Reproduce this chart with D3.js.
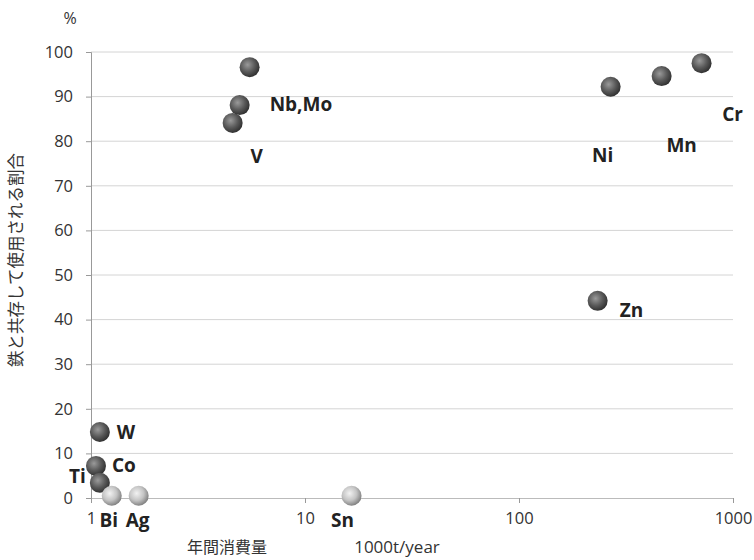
<!DOCTYPE html>
<html lang="ja">
<head>
<meta charset="UTF-8">
<title>鉄と共存して使用される割合</title>
<script src="https://d3js.org/d3.v7.min.js"></script>
<style>
  body { margin: 0; background: #fff; }
  text { font-family: "Open Sans", "Liberation Sans", sans-serif; }
  .jp { font-family: "Noto Sans CJK JP", sans-serif; }
</style>
</head>
<body>
<div id="chart"></div>
<script>
// データ: 元素名, 年間消費量 (1000t/year), 鉄と共存して使用される割合 (%)
const names  = ["W", "Co", "Ti", "Bi", "Ag", "Sn", "V", "Nb", "Mo", "Ni", "Mn", "Cr", "Zn"];
const usage  = [1.10, 1.055, 1.10, 1.25, 1.67, 16.5, 4.59, 4.95, 5.51, 268, 464, 713, 233];
const share  = [14.8, 7.2, 3.4, 0.5, 0.5, 0.5, 84.1, 88.1, 96.6, 92.2, 94.6, 97.5, 44.2];
const light  = ["Bi", "Ag", "Sn"];
const yTicks = [0, 10, 20, 30, 40, 50, 60, 70, 80, 90, 100];
const xTicks = [1, 10, 100, 1000];

// ラベル (テキスト, 基準点, オフセット)
const labels = [
  { text: "W",     at: "W",  dx: 17,  dy: 7,  anchor: "start" },
  { text: "Co",    at: "Co", dx: 16,  dy: 6,  anchor: "start" },
  { text: "Ti",    at: "Ti", dx: -14, dy: 0,  anchor: "end" },
  { text: "Bi",    at: "Bi", dx: -3,  dy: 31, anchor: "middle" },
  { text: "Ag",    at: "Ag", dx: -1,  dy: 31, anchor: "middle" },
  { text: "Sn",    at: "Sn", dx: -9,  dy: 31, anchor: "middle" },
  { text: "V",     at: "V",  dx: 24,  dy: 40, anchor: "middle" },
  { text: "Nb,Mo", at: "Nb", dx: 30,  dy: 6,  anchor: "start" },
  { text: "Ni",    at: "Ni", dx: -8,  dy: 75, anchor: "middle" },
  { text: "Mn",    at: "Mn", dx: 20,  dy: 76, anchor: "middle" },
  { text: "Cr",    at: "Cr", dx: 31,  dy: 58, anchor: "middle" },
  { text: "Zn",    at: "Zn", dx: 34,  dy: 16, anchor: "middle" }
];

const width = 754, height = 560;
const margin = { left: 91, right: 21, top: 52, bottom: 62 };

const svg = d3.select("#chart").append("svg")
  .attr("width", width)
  .attr("height", height);

const x = d3.scaleLog().domain([1, 1000]).range([margin.left, width - margin.right]);
const y = d3.scaleLinear().domain([0, 100]).range([height - margin.bottom, margin.top]);

// グラデーション (球体風)
const defs = svg.append("defs");
function sphere(id, c0, c1, c2) {
  const g = defs.append("radialGradient").attr("id", id)
    .attr("cx", "40%").attr("cy", "38%").attr("r", "65%");
  g.append("stop").attr("offset", "0%").attr("stop-color", c0);
  g.append("stop").attr("offset", "55%").attr("stop-color", c1);
  g.append("stop").attr("offset", "100%").attr("stop-color", c2);
}
sphere("dark", "#9a9a9a", "#5a5a5a", "#2e2e2e");
sphere("light", "#f2f2f2", "#c4c4c4", "#7c7c7c");

// 目盛線
svg.append("g").selectAll("line")
  .data(yTicks.filter(d => d > 0))
  .join("line")
  .attr("x1", margin.left).attr("x2", width - margin.right)
  .attr("y1", d => y(d)).attr("y2", d => y(d))
  .attr("stroke", "#d4d4d4").attr("stroke-width", 1);

// Y軸
const yAxis = svg.append("g")
  .attr("transform", `translate(${margin.left},0)`)
  .call(d3.axisLeft(y).tickValues(yTicks).tickSize(5).tickPadding(13));
yAxis.select(".domain").attr("stroke", "#999");
yAxis.selectAll(".tick line").attr("stroke", "#999");
yAxis.selectAll("text").attr("font-size", 16.5).attr("fill", "#333");

// X軸
const xAxis = svg.append("g")
  .attr("transform", `translate(0,${y(0)})`)
  .call(d3.axisBottom(x).tickValues(xTicks).tickFormat(d3.format("d")).tickSize(5).tickPadding(9));
xAxis.select(".domain").attr("stroke", "#bbb");
xAxis.selectAll(".tick line").attr("stroke", "#999");
xAxis.selectAll("text").attr("font-size", 16.5).attr("fill", "#333");

// 点
const points = names.map((n, i) => ({ name: n, u: usage[i], s: share[i] }));
const byName = Object.fromEntries(points.map(p => [p.name, p]));

svg.append("g").selectAll("circle")
  .data(points)
  .join("circle")
  .attr("cx", d => x(d.u))
  .attr("cy", d => y(d.s))
  .attr("r", 10)
  .attr("fill", d => light.includes(d.name) ? "url(#light)" : "url(#dark)");

// ラベル
svg.append("g").selectAll("text")
  .data(labels)
  .join("text")
  .attr("x", d => x(byName[d.at].u) + d.dx)
  .attr("y", d => y(byName[d.at].s) + d.dy)
  .attr("text-anchor", d => d.anchor)
  .attr("font-size", 19)
  .attr("font-weight", "bold")
  .attr("fill", "#222")
  .text(d => d.text);

// 軸タイトル
svg.append("text").attr("x", 70).attr("y", 24)
  .attr("text-anchor", "middle").attr("font-size", 16).attr("fill", "#333").text("%");

svg.append("text").attr("class", "jp")
  .attr("transform", "translate(22,260) rotate(-90)")
  .attr("text-anchor", "middle").attr("font-size", 16.5).attr("fill", "#333")
  .text("鉄と共存して使用される割合");

svg.append("text").attr("class", "jp")
  .attr("x", 227).attr("y", 553)
  .attr("text-anchor", "middle").attr("font-size", 16).attr("fill", "#333")
  .text("年間消費量");

svg.append("text")
  .attr("x", 397).attr("y", 553)
  .attr("text-anchor", "middle").attr("font-size", 17).attr("fill", "#333")
  .text("1000t/year");
</script>
</body>
</html>
